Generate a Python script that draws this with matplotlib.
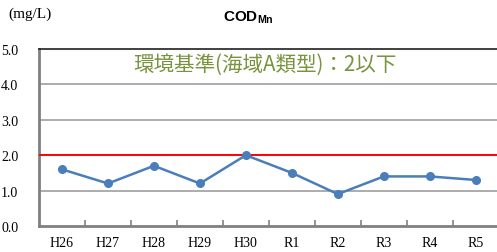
import matplotlib
matplotlib.use("Agg")
import matplotlib.pyplot as plt

years = ["H26", "H27", "H28", "H29", "H30", "R1", "R2", "R3", "R4", "R5"]
cod = [1.6, 1.2, 1.7, 1.2, 2.0, 1.5, 0.9, 1.4, 1.4, 1.3]
standard = 2.0
yticks = [0.0, 1.0, 2.0, 3.0, 4.0, 5.0]

plt.rcParams['font.family'] = ['Liberation Serif', 'Noto Sans CJK JP']

fig = plt.figure(figsize=(4.97, 2.53), dpi=100)
ax = fig.add_axes([0.0785, 0.103, 0.925, 0.699])

x = list(range(len(years)))
ax.plot(x, cod, color='#4a7ebb', lw=1.8, marker='o', ms=5.5, zorder=4)
ax.axhline(standard, color='#ff0000', lw=1.4, zorder=3)

ax.set_xlim(-0.5, len(years) - 0.5)
ax.set_ylim(0, 5)
ax.set_yticks(yticks)
ax.set_yticklabels([f"{v:.1f}" for v in yticks], fontsize=10)
ax.set_xticks(x)
ax.set_xticklabels(years, fontsize=10)
ax.set_xticks([i + 0.5 for i in x[:-1]], minor=True)
ax.tick_params(axis='x', which='major', length=0, pad=7)
ax.tick_params(axis='x', which='minor', length=4, width=1.2, color='#808080', direction='in')
ax.tick_params(axis='y', length=0, pad=15)

for v in yticks[1:-1]:
    if v != standard:
        ax.axhline(v, color='#a6a6a6', lw=1.3, zorder=1)

ax.spines['top'].set_color('#202020')
ax.spines['top'].set_linewidth(1.2)
ax.spines['right'].set_visible(False)
for s in ['left', 'bottom']:
    ax.spines[s].set_color('#808080')
    ax.spines[s].set_linewidth(2.0)

ax.text(0.491, 0.915, "環境基準(海域A類型)：2以下", transform=ax.transAxes,
        ha='center', va='center', fontsize=14.8, color='#77933c',
        family=['Noto Sans CJK JP'])

fig.text(0.016, 0.945, "(mg/L)", fontsize=11, ha='left', va='center',
         family=['Liberation Serif'])
fig.text(0.5, 0.93, r"COD$_{\mathregular{Mn}}$", fontsize=11, ha='center',
         va='center', family=['Liberation Sans'], fontweight='bold')

fig.savefig("out.png", dpi=100)
